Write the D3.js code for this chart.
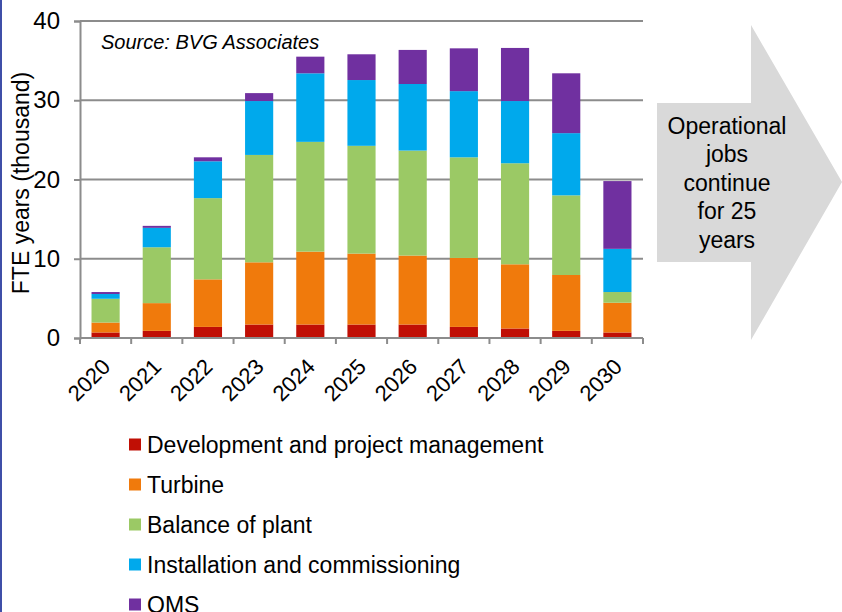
<!DOCTYPE html>
<html>
<head>
<meta charset="utf-8">
<script src="https://cdn.jsdelivr.net/npm/d3@7"></script>
<style>
  html, body { margin: 0; padding: 0; background: #fff; }
  svg { display: block; font-family: "Liberation Sans", Arial, sans-serif; }
</style>
</head>
<body>
<svg id="chart" width="842" height="612"></svg>
<script>
// Years on the x axis
const years = ["2020","2021","2022","2023","2024","2025","2026","2027","2028","2029","2030"];

// FTE years (thousand) by activity
const development  = [0.7, 0.9, 1.4, 1.7, 1.7, 1.7, 1.7, 1.4, 1.2, 0.9, 0.7];
const turbine      = [1.25, 3.5, 6.0, 7.85, 9.2, 8.95, 8.7, 8.7, 8.1, 7.05, 3.75];
const balance      = [3.0, 7.05, 10.25, 13.55, 13.85, 13.6, 13.25, 12.7, 12.75, 10.05, 1.35];
const installation = [0.6, 2.45, 4.65, 6.8, 8.65, 8.3, 8.4, 8.35, 7.85, 7.85, 5.45];
const oms          = [0.25, 0.25, 0.5, 1.0, 2.1, 3.25, 4.3, 5.4, 6.7, 7.55, 8.55];

const seriesNames = [
  "Development and project management",
  "Turbine",
  "Balance of plant",
  "Installation and commissioning",
  "OMS"
];
const seriesColors = ["#c00f05", "#f07a0c", "#9bc965", "#00a9ec", "#7030a0"];
const yTicks = [0, 10, 20, 30, 40];
const arrowLines = ["Operational", "jobs", "continue", "for 25", "years"];

const seriesValues = [development, turbine, balance, installation, oms];
const rows = years.map((y, i) => {
  const r = { year: y };
  seriesNames.forEach((n, k) => { r[n] = seriesValues[k][i]; });
  return r;
});

const svg = d3.select("#chart");
const font = "'Liberation Sans', Arial, sans-serif";

// Left page edge rule
svg.append("rect").attr("x", 0).attr("y", 0).attr("width", 2).attr("height", 612).attr("fill", "#3f4fa8");

const plot = { left: 80, right: 643, top: 21, bottom: 338 };

const x = d3.scaleBand().domain(years).range([plot.left, plot.right]).paddingInner(0.45).paddingOuter(0.225);
const y = d3.scaleLinear().domain([0, 40]).range([plot.bottom, plot.top]);

const gridColor = "#8c8c8c";

// Horizontal gridlines
svg.append("g").selectAll("line").data(yTicks.filter(t => t > 0)).join("line")
  .attr("x1", plot.left).attr("x2", plot.right)
  .attr("y1", d => y(d)).attr("y2", d => y(d))
  .attr("stroke", gridColor).attr("stroke-width", 2);

// Stacked bars
const stack = d3.stack().keys(seriesNames);
const layers = stack(rows);
svg.append("g").selectAll("g").data(layers).join("g")
  .attr("fill", (d, i) => seriesColors[i])
  .selectAll("rect").data(d => d).join("rect")
  .attr("x", d => x(d.data.year))
  .attr("width", x.bandwidth())
  .attr("y", d => y(d[1]))
  .attr("height", d => y(d[0]) - y(d[1]));

// Y axis
const yAxis = svg.append("g").attr("transform", `translate(${plot.left},0)`)
  .call(d3.axisLeft(y).tickValues(yTicks).tickSize(6).tickPadding(14));
yAxis.select(".domain").attr("stroke", gridColor).attr("stroke-width", 2);
yAxis.selectAll(".tick line").attr("stroke", gridColor).attr("stroke-width", 2);
yAxis.selectAll(".tick text").attr("font-size", 24).attr("fill", "#000")
  .attr("font-family", font);

// X axis: ticks at the category boundaries
const xAxisG = svg.append("g").attr("transform", `translate(0,${plot.bottom})`);
xAxisG.append("line").attr("x1", plot.left).attr("x2", plot.right)
  .attr("stroke", gridColor).attr("stroke-width", 2);
const boundaries = d3.range(years.length + 1).map(i => plot.left + i * (plot.right - plot.left) / years.length);
xAxisG.selectAll("line.tk").data(boundaries).join("line").attr("class", "tk")
  .attr("x1", d => d).attr("x2", d => d).attr("y1", 0).attr("y2", 6)
  .attr("stroke", gridColor).attr("stroke-width", 2);
xAxisG.selectAll("text").data(years).join("text")
  .attr("transform", d => `translate(${x(d) + x.bandwidth() / 2 + 6},${30}) rotate(-45)`)
  .attr("text-anchor", "end")
  .attr("font-size", 22)
  .attr("fill", "#000")
  .text(d => d);

// Y axis title
svg.append("text")
  .attr("transform", `translate(29,183) rotate(-90)`)
  .attr("text-anchor", "middle")
  .attr("font-size", 23)
  .attr("fill", "#000")
  .text("FTE years (thousand)");

// Source note
svg.append("text")
  .attr("x", 101).attr("y", 48.5)
  .attr("font-size", 20).attr("font-style", "italic")
  .attr("fill", "#000")
  .text("Source: BVG Associates");

// Arrow callout
const arrow = d3.path();
arrow.moveTo(657, 103);
arrow.lineTo(751, 103);
arrow.lineTo(751, 25);
arrow.lineTo(842, 182);
arrow.lineTo(751, 340);
arrow.lineTo(751, 262);
arrow.lineTo(657, 262);
arrow.closePath();
svg.append("path").attr("d", arrow.toString()).attr("fill", "#d9d9d9");

svg.append("g").selectAll("text").data(arrowLines).join("text")
  .attr("x", 727)
  .attr("y", (d, i) => 133.5 + i * 28.5)
  .attr("text-anchor", "middle")
  .attr("font-size", 23)
  .attr("fill", "#000")
  .text(d => d);

// Legend
const legend = svg.append("g").selectAll("g").data(seriesNames).join("g")
  .attr("transform", (d, i) => `translate(129,${444.5 + i * 40})`);
legend.append("rect").attr("x", 0).attr("y", -6).attr("width", 12).attr("height", 12)
  .attr("fill", (d, i) => seriesColors[i]);
legend.append("text").attr("x", 18).attr("y", 8.5)
  .attr("font-size", 23).attr("fill", "#000")
  .text(d => d);
</script>
</body>
</html>
